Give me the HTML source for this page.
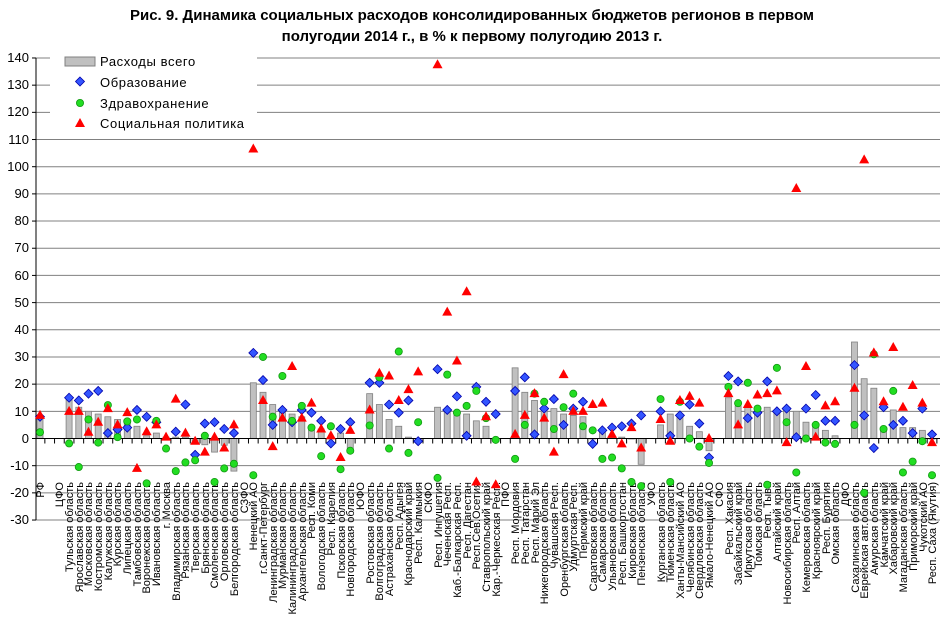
<!DOCTYPE html>
<html><head><meta charset="utf-8"><style>
html,body{margin:0;padding:0;background:#fff;}
svg{display:block;font-family:"Liberation Sans",Arial,sans-serif;}
</style></head><body>
<svg id="c" width="942" height="627" viewBox="0 0 942 627" xmlns="http://www.w3.org/2000/svg">
<rect width="942" height="627" fill="#fff"/>
<text x="472" y="20" text-anchor="middle" font-size="15" font-weight="bold">Рис. 9. Динамика социальных расходов консолидированных бюджетов регионов в первом</text>
<text x="472" y="41" text-anchor="middle" font-size="15" font-weight="bold">полугодии 2014 г., в % к первому полугодию 2013 г.</text>
<g id="grid"></g>
<g font-size="13" text-anchor="end">
<text x="29" y="62">140</text><text x="29" y="89">130</text><text x="29" y="116">120</text><text x="29" y="144">110</text><text x="29" y="171">100</text><text x="29" y="198">90</text><text x="29" y="225">80</text><text x="29" y="252">70</text><text x="29" y="280">60</text><text x="29" y="307">50</text><text x="29" y="334">40</text><text x="29" y="361">30</text><text x="29" y="388">20</text><text x="29" y="416">10</text><text x="29" y="443">0</text><text x="29" y="470">-10</text><text x="29" y="497">-20</text><text x="29" y="524">-30</text>
</g>
<g id="labels" font-size="11" text-anchor="end">
<text transform="translate(44,482) rotate(-90)">РФ</text>
<text transform="translate(63,482) rotate(-90)">ЦФО</text>
<text transform="translate(73,482) rotate(-90)">Тульская область</text>
<text transform="translate(83,482) rotate(-90)">Ярославская область</text>
<text transform="translate(92,482) rotate(-90)">Московская область</text>
<text transform="translate(102,482) rotate(-90)">Костромская область</text>
<text transform="translate(112,482) rotate(-90)">Калужская область</text>
<text transform="translate(121,482) rotate(-90)">Курская область</text>
<text transform="translate(131,482) rotate(-90)">Липецкая область</text>
<text transform="translate(141,482) rotate(-90)">Тамбовская область</text>
<text transform="translate(150,482) rotate(-90)">Воронежская область</text>
<text transform="translate(160,482) rotate(-90)">Ивановская область</text>
<text transform="translate(170,482) rotate(-90)">г. Москва</text>
<text transform="translate(180,482) rotate(-90)">Владимирская область</text>
<text transform="translate(189,482) rotate(-90)">Рязанская область</text>
<text transform="translate(199,482) rotate(-90)">Тверская область</text>
<text transform="translate(209,482) rotate(-90)">Брянская область</text>
<text transform="translate(218,482) rotate(-90)">Смоленская область</text>
<text transform="translate(228,482) rotate(-90)">Орловская область</text>
<text transform="translate(238,482) rotate(-90)">Белгородская область</text>
<text transform="translate(248,482) rotate(-90)">СЗФО</text>
<text transform="translate(257,482) rotate(-90)">Ненецкий АО</text>
<text transform="translate(267,482) rotate(-90)">г.Санкт-Петербург</text>
<text transform="translate(277,482) rotate(-90)">Ленинградская область</text>
<text transform="translate(286,482) rotate(-90)">Мурманская область</text>
<text transform="translate(296,482) rotate(-90)">Калининградская область</text>
<text transform="translate(306,482) rotate(-90)">Архангельская область</text>
<text transform="translate(315,482) rotate(-90)">Респ. Коми</text>
<text transform="translate(325,482) rotate(-90)">Вологодская область</text>
<text transform="translate(335,482) rotate(-90)">Респ. Карелия</text>
<text transform="translate(345,482) rotate(-90)">Псковская область</text>
<text transform="translate(354,482) rotate(-90)">Новгородская область</text>
<text transform="translate(364,482) rotate(-90)">ЮФО</text>
<text transform="translate(374,482) rotate(-90)">Ростовская область</text>
<text transform="translate(383,482) rotate(-90)">Волгоградская область</text>
<text transform="translate(393,482) rotate(-90)">Астраханская область</text>
<text transform="translate(403,482) rotate(-90)">Респ. Адыгея</text>
<text transform="translate(412,482) rotate(-90)">Краснодарский край</text>
<text transform="translate(422,482) rotate(-90)">Респ. Калмыкия</text>
<text transform="translate(432,482) rotate(-90)">СКФО</text>
<text transform="translate(442,482) rotate(-90)">Респ. Ингушетия</text>
<text transform="translate(451,482) rotate(-90)">Чеченская Респ.</text>
<text transform="translate(461,482) rotate(-90)">Каб.-Балкарская Респ.</text>
<text transform="translate(471,482) rotate(-90)">Респ. Дагестан</text>
<text transform="translate(480,482) rotate(-90)">Респ.Сев.Осетия</text>
<text transform="translate(490,482) rotate(-90)">Ставропольский край</text>
<text transform="translate(500,482) rotate(-90)">Кар.-Черкесская Респ.</text>
<text transform="translate(509,482) rotate(-90)">ПФО</text>
<text transform="translate(519,482) rotate(-90)">Респ. Мордовия</text>
<text transform="translate(529,482) rotate(-90)">Респ. Татарстан</text>
<text transform="translate(539,482) rotate(-90)">Респ. Марий Эл</text>
<text transform="translate(548,482) rotate(-90)">Нижегородская область</text>
<text transform="translate(558,482) rotate(-90)">Чувашская Респ.</text>
<text transform="translate(568,482) rotate(-90)">Оренбургская область</text>
<text transform="translate(577,482) rotate(-90)">Удмуртская Респ.</text>
<text transform="translate(587,482) rotate(-90)">Пермский край</text>
<text transform="translate(597,482) rotate(-90)">Саратовская область</text>
<text transform="translate(606,482) rotate(-90)">Самарская область</text>
<text transform="translate(616,482) rotate(-90)">Ульяновская область</text>
<text transform="translate(626,482) rotate(-90)">Респ. Башкортостан</text>
<text transform="translate(636,482) rotate(-90)">Кировская область</text>
<text transform="translate(645,482) rotate(-90)">Пензенская область</text>
<text transform="translate(655,482) rotate(-90)">УФО</text>
<text transform="translate(665,482) rotate(-90)">Курганская область</text>
<text transform="translate(674,482) rotate(-90)">Тюменская область</text>
<text transform="translate(684,482) rotate(-90)">Ханты-Мансийский АО</text>
<text transform="translate(694,482) rotate(-90)">Челябинская область</text>
<text transform="translate(703,482) rotate(-90)">Свердловская область</text>
<text transform="translate(713,482) rotate(-90)">Ямало-Ненецкий АО</text>
<text transform="translate(723,482) rotate(-90)">СФО</text>
<text transform="translate(733,482) rotate(-90)">Респ. Хакасия</text>
<text transform="translate(742,482) rotate(-90)">Забайкальский край</text>
<text transform="translate(752,482) rotate(-90)">Иркутская область</text>
<text transform="translate(762,482) rotate(-90)">Томская область</text>
<text transform="translate(771,482) rotate(-90)">Респ. Тыва</text>
<text transform="translate(781,482) rotate(-90)">Алтайский край</text>
<text transform="translate(791,482) rotate(-90)">Новосибирская область</text>
<text transform="translate(800,482) rotate(-90)">Респ. Алтай</text>
<text transform="translate(810,482) rotate(-90)">Кемеровская область</text>
<text transform="translate(820,482) rotate(-90)">Красноярский край</text>
<text transform="translate(830,482) rotate(-90)">Респ. Бурятия</text>
<text transform="translate(839,482) rotate(-90)">Омская область</text>
<text transform="translate(849,482) rotate(-90)">ДФО</text>
<text transform="translate(859,482) rotate(-90)">Сахалинская область</text>
<text transform="translate(868,482) rotate(-90)">Еврейская авт.область</text>
<text transform="translate(878,482) rotate(-90)">Амурская область</text>
<text transform="translate(888,482) rotate(-90)">Камчатский край</text>
<text transform="translate(897,482) rotate(-90)">Хабаровский край</text>
<text transform="translate(907,482) rotate(-90)">Магаданская область</text>
<text transform="translate(917,482) rotate(-90)">Приморский край</text>
<text transform="translate(927,482) rotate(-90)">Чукотский АО</text>
<text transform="translate(936,482) rotate(-90)">Респ. Саха (Якутия)</text>
</g>
<g id="data"></g>
<g id="legend">
<rect x="50" y="48" width="207" height="88" fill="#fff"/>
<rect x="65" y="57" width="30" height="9" fill="#c0c0c0" stroke="#808080" stroke-width="1"/>
<polygon points="80,77 84.5,81.5 80,86 75.5,81.5" fill="#3355ff" stroke="#0000aa" stroke-width="0.8"/>
<circle cx="80" cy="103" r="3.6" fill="#22dd22" stroke="#119911" stroke-width="0.8"/>
<polygon points="80,118 85,127 75,127" fill="#ff0000"/>
<g font-size="13" letter-spacing="0.6">
<text x="100" y="66">Расходы всего</text>
<text x="100" y="87">Образование</text>
<text x="100" y="108">Здравохранение</text>
<text x="100" y="128">Социальная политика</text>
</g>
</g>
</svg>
<script>
(function(){
var NS="http://www.w3.org/2000/svg";
function el(p,t,a){var e=document.createElementNS(NS,t);for(var k in a)e.setAttribute(k,a[k]);p.appendChild(e);return e;}
function Y(v){return 438.5-v*2.718;}
function X(i){return 40+9.696*i;}
var grid=document.getElementById('grid');
for(var v=-30;v<=140;v+=10){ if(v===0)continue; el(grid,'line',{x1:36,x2:940,y1:Y(v),y2:Y(v),stroke:'#808080','stroke-width':1});}
el(grid,'line',{x1:36,x2:36,y1:Y(140),y2:Y(-30),stroke:'#000','stroke-width':1});
for(var v=-30;v<=140;v+=10){el(grid,'line',{x1:32,x2:36,y1:Y(v),y2:Y(v),stroke:'#000','stroke-width':1});}
var N=93,bar={},blue={},green={},red={};
function fill(o,s){s.split(',').forEach(function(p){var q=p.split(':');o[+q[0]]=+q[1];});}
fill(bar,"0:8,3:15,4:11.5,5:10,6:9,7:8,8:7,9:7,10:4.5,11:1,12:2,13:0.5,14:0.5,15:0.5,16:-1,17:-2.3,18:-5,19:-2.5,20:-12,22:20.5,23:17,24:12.5,25:10,26:9,27:8,28:4,29:3.5,30:0,31:2,32:-4,34:16.5,35:12.5,36:7,37:4.5,38:0.5,39:0,41:11.5,42:10,43:10,44:9,45:6.5,46:4.5,47:0,49:26,50:17,51:14,52:11,53:11,54:9,55:8.5,56:8,57:0,58:3.5,59:0.5,60:0.5,61:0,62:-9.5,64:5,65:9,66:8,67:4.5,68:2.5,69:-4.5,71:15,72:12,73:12,74:10,75:11.5,76:9.5,77:11,78:10,79:6,80:4.5,81:3,82:1,84:35.5,85:22,86:18.5,87:4,88:10.5,89:4,90:4,91:3,92:0");
fill(blue,"0:8,3:15,4:14,5:16.5,6:17.5,7:2,8:3.3,9:4,10:10.5,11:8,12:6,14:2.5,15:12.5,16:-6,17:5.5,18:6,19:3.5,20:2,22:31.5,23:21.5,24:5,25:10.5,26:6,27:10.5,28:9.5,29:6.5,30:-1.8,31:3.5,32:6,34:20.5,35:20.5,36:12.5,37:9.5,38:14,39:-1,41:25.5,42:10.5,43:15.5,44:1,45:19,46:13.5,47:9,49:17.5,50:22.5,51:1.5,52:11,53:14.5,54:5,55:11,56:13.5,57:-2,58:3,59:4,60:4.5,61:5.5,62:8.5,64:10,65:1,66:8.5,67:12.5,68:5.5,69:-7,71:23,72:21,73:7.5,74:9.5,75:21,76:10,77:11,78:0.5,79:11,80:16,81:6.5,82:6.5,84:27,85:8.5,86:-3.5,87:11.5,88:5,89:6.5,90:2,91:11,92:1.5");
fill(green,"0:2.3,3:-1.8,4:-10.5,5:7,6:-1.5,7:12.3,8:0.5,9:6.3,10:7,11:-16.5,12:6.5,13:-3.7,14:-12,15:-8.8,16:-8,17:1,18:-16,19:-11,20:-9.3,22:-13.5,23:30,24:8,25:23,26:6.5,27:12,28:4,29:-6.5,30:4.5,31:-11.3,32:-4.5,34:4.8,35:22.5,36:-3.7,37:32,38:-5.3,39:6,41:-14.5,42:23.5,43:9.5,44:12,45:17.5,46:7.5,47:-0.5,49:-7.5,50:5,51:16.5,52:13.5,53:3.5,54:11.5,55:16.5,56:4.5,57:3,58:-7.5,59:-7,60:-11,61:-16,62:-17.5,64:14.5,65:-16,66:13.5,67:0,68:-3,69:-9,71:19,72:13,73:20.5,74:11,75:-17,76:26,77:6,78:-12.5,79:0,80:5,81:-1.5,82:-2,84:5,85:-20,86:31,87:3.5,88:17.5,89:-12.5,90:-8.5,91:-1,92:-13.5");
fill(red,"0:8.5,3:10,4:10,5:2.3,6:6,7:11,8:5,9:9.5,10:-11,11:2.5,12:5,13:0.5,14:14.5,15:2,16:-1,17:-5,18:0.5,19:-3.5,20:5,22:106.5,23:14,24:-3,25:7.5,26:26.5,27:7.5,28:13,29:3.5,30:1,31:-7,32:3,34:10.5,35:24,36:23,37:14,38:18,39:24.5,41:137.5,42:46.5,43:28.5,44:54,45:-16,46:8,47:-17,49:1.5,50:8.5,51:16.5,52:7.5,53:-5,54:23.5,55:10,56:10,57:12.5,58:13,59:1.5,60:-2,61:4,62:-3.5,64:7,65:-1,66:14,67:15.5,68:13,69:0,71:16.5,72:5,73:12.5,74:16,75:16.5,76:17.5,77:-1.5,78:92,79:26.5,80:0.5,81:12,82:13.5,84:18.5,85:102.5,86:31.5,87:13.5,88:33.5,89:11.5,90:19.5,91:13,92:-1.5");
var d=document.getElementById('data');
for(var i=0;i<N;i++){ if(bar[i]!==undefined){var v=bar[i],y0=Y(0),y1=Y(v);
 el(d,'rect',{x:X(i)-3,y:Math.min(y0,y1),width:6,height:Math.max(Math.abs(y1-y0),0.5),fill:'#c0c0c0',stroke:'#808080','stroke-width':0.8});}}
el(d,'line',{x1:36,x2:940,y1:Y(0),y2:Y(0),stroke:'#000','stroke-width':1});
for(var i=0;i<N;i++){var tx=X(i)+4.85;el(d,'line',{x1:tx,x2:tx,y1:Y(0),y2:Y(0)+5,stroke:'#000','stroke-width':1});}
for(var i=0;i<N;i++){
 if(blue[i]!==undefined){var x=X(i),y=Y(blue[i]);el(d,'polygon',{points:x+','+(y-4.5)+' '+(x+4.5)+','+y+' '+x+','+(y+4.5)+' '+(x-4.5)+','+y,fill:'#3355ff',stroke:'#0000aa','stroke-width':0.8});}
 if(green[i]!==undefined){el(d,'circle',{cx:X(i),cy:Y(green[i]),r:3.6,fill:'#22dd22',stroke:'#119911','stroke-width':0.8});}
 if(red[i]!==undefined){var x=X(i),y=Y(red[i]);el(d,'polygon',{points:x+','+(y-5.5)+' '+(x+5)+','+(y+3.5)+' '+(x-5)+','+(y+3.5),fill:'#ff0000'});}
}
})();
</script>
</body></html>
